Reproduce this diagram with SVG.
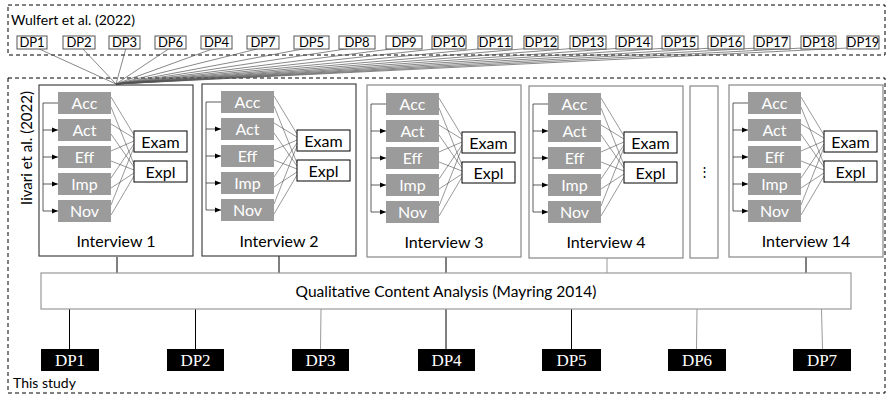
<svg xmlns="http://www.w3.org/2000/svg" width="887" height="395" viewBox="0 0 887 395">
<style>
text{font-family:Lato,"Liberation Sans",sans-serif;fill:#000}
.dash{fill:none;stroke:#000;stroke-width:1;stroke-dasharray:4 3}
.dp{fill:#fff;stroke:#555;stroke-width:1}
.dpt{font-size:13px;text-anchor:middle}
.conv{stroke:#555;stroke-width:0.7;fill:none}
.ivA{fill:#fff;stroke:#444;stroke-width:1.2}
.ivB{fill:#fff;stroke:#888;stroke-width:1.2}
.g{fill:#9b9b9b}
.gt{font-size:16px;fill:#fff;text-anchor:middle}
.ex{fill:#fff;stroke:#000;stroke-width:1}
.ext{font-size:16px;text-anchor:middle}
.mesh{stroke:#333;stroke-width:0.5;fill:none}
.br{stroke:#333;stroke-width:0.8;fill:none}
.lab{font-size:16px;text-anchor:middle}
.blk{fill:#000}
.bt{font-family:"Liberation Serif","Times New Roman",serif;font-size:17px;fill:#fff;text-anchor:middle}
.ln{stroke:#000;stroke-width:1}
.lng{stroke:#999;stroke-width:1}
</style>
<defs>
<marker id="ar" viewBox="0 0 6 6" refX="6" refY="3" markerWidth="6" markerHeight="6" orient="auto" markerUnits="userSpaceOnUse">
<path d="M0,0.5 L6,3 L0,5.5 Z" fill="#000"/>
</marker>
</defs>

<g id="frames">
<rect class="dash" x="8" y="5" width="877" height="50"/>
<text x="11" y="25" font-size="14">Wulfert et al. (2022)</text>
<rect class="dash" x="8" y="78" width="877" height="315"/>
<text x="13" y="388" font-size="14">This study</text>
<text transform="translate(32,148) rotate(-90)" font-size="15" text-anchor="middle">Iivari et al. (2022)</text>
</g>

<g id="connectors">
<g class="conv">
<line x1="37" y1="48" x2="116" y2="84"/>
<line x1="82" y1="48" x2="116" y2="84"/>
<line x1="126" y1="48" x2="116" y2="84"/>
<line x1="170" y1="48" x2="116" y2="84"/>
<line x1="215" y1="48" x2="116" y2="84"/>
<line x1="261" y1="48" x2="116" y2="84"/>
<line x1="308" y1="48" x2="116" y2="84"/>
<line x1="352" y1="48" x2="116" y2="84"/>
<line x1="399" y1="48" x2="116" y2="84"/>
<line x1="443" y1="48" x2="116" y2="84"/>
<line x1="488" y1="48" x2="116" y2="84"/>
<line x1="533" y1="48" x2="116" y2="84"/>
<line x1="578" y1="48" x2="116" y2="84"/>
<line x1="623" y1="48" x2="116" y2="84"/>
<line x1="668" y1="48" x2="116" y2="84"/>
<line x1="713" y1="48" x2="116" y2="84"/>
<line x1="758" y1="48" x2="116" y2="84"/>
<line x1="803" y1="48" x2="116" y2="84"/>
<line x1="848" y1="48" x2="116" y2="84"/>
</g>
<line class="ln" x1="117" y1="257" x2="117" y2="273"/>
<line class="ln" x1="279" y1="256" x2="279" y2="273"/>
<line class="ln" x1="446" y1="257" x2="446" y2="273"/>
<line class="lng" x1="607" y1="258" x2="607" y2="273"/>
<line class="ln" x1="806" y1="257" x2="806" y2="273"/>
<line class="ln" x1="69.5" y1="309" x2="69.5" y2="349"/>
<line class="ln" x1="195.5" y1="309" x2="195.5" y2="349"/>
<line class="lng" x1="321" y1="309" x2="320.5" y2="349"/>
<line class="ln" x1="446" y1="309" x2="446" y2="349"/>
<line class="ln" x1="571.5" y1="309" x2="571.5" y2="349"/>
<line class="lng" x1="697" y1="309" x2="696.5" y2="349"/>
<line class="lng" x1="821.5" y1="309" x2="822.5" y2="349"/>
</g>

<g id="top-dps">
<g id="w-dp1"><rect class="dp" x="17" y="36" width="30" height="13"/><text class="dpt" x="32" y="47">DP1</text></g>
<g id="w-dp2"><rect class="dp" x="63" y="36" width="32" height="13"/><text class="dpt" x="79" y="47">DP2</text></g>
<g id="w-dp3"><rect class="dp" x="109" y="36" width="31" height="13"/><text class="dpt" x="124.5" y="47">DP3</text></g>
<g id="w-dp6"><rect class="dp" x="155" y="36" width="31" height="13"/><text class="dpt" x="170.5" y="47">DP6</text></g>
<g id="w-dp4"><rect class="dp" x="201" y="36" width="31" height="13"/><text class="dpt" x="216.5" y="47">DP4</text></g>
<g id="w-dp7"><rect class="dp" x="247" y="36" width="32" height="13"/><text class="dpt" x="263" y="47">DP7</text></g>
<g id="w-dp5"><rect class="dp" x="294" y="36" width="35" height="13"/><text class="dpt" x="311.5" y="47">DP5</text></g>
<g id="w-dp8"><rect class="dp" x="339" y="36" width="36" height="13"/><text class="dpt" x="357" y="47">DP8</text></g>
<g id="w-dp9"><rect class="dp" x="386" y="36" width="36" height="13"/><text class="dpt" x="404" y="47">DP9</text></g>
<g id="w-dp10"><rect class="dp" x="432" y="36" width="34" height="13"/><text class="dpt" x="449" y="47">DP10</text></g>
<g id="w-dp11"><rect class="dp" x="478" y="36" width="34" height="13"/><text class="dpt" x="495" y="47">DP11</text></g>
<g id="w-dp12"><rect class="dp" x="524" y="36" width="34" height="13"/><text class="dpt" x="541" y="47">DP12</text></g>
<g id="w-dp13"><rect class="dp" x="570" y="36" width="36" height="13"/><text class="dpt" x="588" y="47">DP13</text></g>
<g id="w-dp14"><rect class="dp" x="616" y="36" width="36" height="13"/><text class="dpt" x="634" y="47">DP14</text></g>
<g id="w-dp15"><rect class="dp" x="662" y="36" width="36" height="13"/><text class="dpt" x="680" y="47">DP15</text></g>
<g id="w-dp16"><rect class="dp" x="708" y="36" width="36" height="13"/><text class="dpt" x="726" y="47">DP16</text></g>
<g id="w-dp17"><rect class="dp" x="754" y="36" width="36" height="13"/><text class="dpt" x="772" y="47">DP17</text></g>
<g id="w-dp18"><rect class="dp" x="801" y="36" width="35" height="13"/><text class="dpt" x="818.5" y="47">DP18</text></g>
<g id="w-dp19"><rect class="dp" x="847" y="36" width="32" height="13"/><text class="dpt" x="863" y="47">DP19</text></g>
</g>

<g id="interview1" transform="translate(39,85)">
<rect class="ivA" x="0" y="0" width="154" height="171"/>
<path class="br" d="M19,18 H4 V126"/>
<line class="br" x1="4" y1="45" x2="19" y2="45" marker-end="url(#ar)"/>
<line class="br" x1="4" y1="72" x2="19" y2="72" marker-end="url(#ar)"/>
<line class="br" x1="4" y1="99" x2="19" y2="99" marker-end="url(#ar)"/>
<line class="br" x1="4" y1="126" x2="19" y2="126" marker-end="url(#ar)"/>
<path class="mesh" d="M72,12 L95,50 M72,22 L95,79 M72,39 L95,53 M72,49 L95,82 M72,66 L95,56 M72,76 L95,85 M72,93 L95,59 M72,103 L95,88 M72,120 L95,62 M72,130 L95,91"/>
<rect class="g" x="19" y="7" width="53" height="22"/><text class="gt" x="45.5" y="24">Acc</text>
<rect class="g" x="19" y="34" width="53" height="22"/><text class="gt" x="45.5" y="51">Act</text>
<rect class="g" x="19" y="61" width="53" height="22"/><text class="gt" x="45.5" y="78">Eff</text>
<rect class="g" x="19" y="88" width="53" height="22"/><text class="gt" x="45.5" y="105">Imp</text>
<rect class="g" x="19" y="115" width="53" height="22"/><text class="gt" x="45.5" y="132">Nov</text>
<rect class="ex" x="95" y="46" width="53" height="21"/><text class="ext" x="121.5" y="62.5">Exam</text>
<rect class="ex" x="95" y="76" width="53" height="21"/><text class="ext" x="121.5" y="92.5">Expl</text>
<text class="lab" x="77" y="162">Interview 1</text>
</g>

<g id="interview2" transform="translate(202,84)">
<rect class="ivA" x="0" y="0" width="154" height="172"/>
<path class="br" d="M19,18 H4 V126"/>
<line class="br" x1="4" y1="45" x2="19" y2="45" marker-end="url(#ar)"/>
<line class="br" x1="4" y1="72" x2="19" y2="72" marker-end="url(#ar)"/>
<line class="br" x1="4" y1="99" x2="19" y2="99" marker-end="url(#ar)"/>
<line class="br" x1="4" y1="126" x2="19" y2="126" marker-end="url(#ar)"/>
<path class="mesh" d="M72,12 L95,50 M72,22 L95,79 M72,39 L95,53 M72,49 L95,82 M72,66 L95,56 M72,76 L95,85 M72,93 L95,59 M72,103 L95,88 M72,120 L95,62 M72,130 L95,91"/>
<rect class="g" x="19" y="7" width="53" height="22"/><text class="gt" x="45.5" y="24">Acc</text>
<rect class="g" x="19" y="34" width="53" height="22"/><text class="gt" x="45.5" y="51">Act</text>
<rect class="g" x="19" y="61" width="53" height="22"/><text class="gt" x="45.5" y="78">Eff</text>
<rect class="g" x="19" y="88" width="53" height="22"/><text class="gt" x="45.5" y="105">Imp</text>
<rect class="g" x="19" y="115" width="53" height="22"/><text class="gt" x="45.5" y="132">Nov</text>
<rect class="ex" x="95" y="46" width="53" height="21"/><text class="ext" x="121.5" y="62.5">Exam</text>
<rect class="ex" x="95" y="76" width="53" height="21"/><text class="ext" x="121.5" y="92.5">Expl</text>
<text class="lab" x="77" y="163">Interview 2</text>
</g>

<g id="interview3" transform="translate(367,85)">
<rect class="ivB" x="0" y="0" width="154" height="172"/>
<path class="br" d="M19,19 H4 V127"/>
<line class="br" x1="4" y1="46" x2="19" y2="46" marker-end="url(#ar)"/>
<line class="br" x1="4" y1="73" x2="19" y2="73" marker-end="url(#ar)"/>
<line class="br" x1="4" y1="100" x2="19" y2="100" marker-end="url(#ar)"/>
<line class="br" x1="4" y1="127" x2="19" y2="127" marker-end="url(#ar)"/>
<path class="mesh" d="M72,13 L95,51 M72,23 L95,80 M72,40 L95,54 M72,50 L95,83 M72,67 L95,57 M72,77 L95,86 M72,94 L95,60 M72,104 L95,89 M72,121 L95,63 M72,131 L95,92"/>
<rect class="g" x="19" y="8" width="53" height="22"/><text class="gt" x="45.5" y="25">Acc</text>
<rect class="g" x="19" y="35" width="53" height="22"/><text class="gt" x="45.5" y="52">Act</text>
<rect class="g" x="19" y="62" width="53" height="22"/><text class="gt" x="45.5" y="79">Eff</text>
<rect class="g" x="19" y="89" width="53" height="22"/><text class="gt" x="45.5" y="106">Imp</text>
<rect class="g" x="19" y="116" width="53" height="22"/><text class="gt" x="45.5" y="133">Nov</text>
<rect class="ex" x="95" y="47" width="53" height="21"/><text class="ext" x="121.5" y="63.5">Exam</text>
<rect class="ex" x="95" y="77" width="53" height="21"/><text class="ext" x="121.5" y="93.5">Expl</text>
<text class="lab" x="77" y="163">Interview 3</text>
</g>

<g id="interview4" transform="translate(529,86)">
<rect class="ivB" x="0" y="0" width="154" height="172"/>
<path class="br" d="M19,18 H4 V126"/>
<line class="br" x1="4" y1="45" x2="19" y2="45" marker-end="url(#ar)"/>
<line class="br" x1="4" y1="72" x2="19" y2="72" marker-end="url(#ar)"/>
<line class="br" x1="4" y1="99" x2="19" y2="99" marker-end="url(#ar)"/>
<line class="br" x1="4" y1="126" x2="19" y2="126" marker-end="url(#ar)"/>
<path class="mesh" d="M72,12 L95,50 M72,22 L95,79 M72,39 L95,53 M72,49 L95,82 M72,66 L95,56 M72,76 L95,85 M72,93 L95,59 M72,103 L95,88 M72,120 L95,62 M72,130 L95,91"/>
<rect class="g" x="19" y="7" width="53" height="22"/><text class="gt" x="45.5" y="24">Acc</text>
<rect class="g" x="19" y="34" width="53" height="22"/><text class="gt" x="45.5" y="51">Act</text>
<rect class="g" x="19" y="61" width="53" height="22"/><text class="gt" x="45.5" y="78">Eff</text>
<rect class="g" x="19" y="88" width="53" height="22"/><text class="gt" x="45.5" y="105">Imp</text>
<rect class="g" x="19" y="115" width="53" height="22"/><text class="gt" x="45.5" y="132">Nov</text>
<rect class="ex" x="95" y="46" width="53" height="21"/><text class="ext" x="121.5" y="62.5">Exam</text>
<rect class="ex" x="95" y="76" width="53" height="21"/><text class="ext" x="121.5" y="92.5">Expl</text>
<text class="lab" x="77" y="162">Interview 4</text>
</g>

<g id="ellipsis">
<rect class="ivB" x="690" y="86" width="28" height="172"/>
<text x="704" y="176" font-size="13" text-anchor="middle" font-family="DejaVu Sans,sans-serif">⋮</text>
</g>

<g id="interview14" transform="translate(729,85)">
<rect class="ivB" x="0" y="0" width="154" height="172"/>
<path class="br" d="M19,18 H4 V126"/>
<line class="br" x1="4" y1="45" x2="19" y2="45" marker-end="url(#ar)"/>
<line class="br" x1="4" y1="72" x2="19" y2="72" marker-end="url(#ar)"/>
<line class="br" x1="4" y1="99" x2="19" y2="99" marker-end="url(#ar)"/>
<line class="br" x1="4" y1="126" x2="19" y2="126" marker-end="url(#ar)"/>
<path class="mesh" d="M72,12 L95,50 M72,22 L95,79 M72,39 L95,53 M72,49 L95,82 M72,66 L95,56 M72,76 L95,85 M72,93 L95,59 M72,103 L95,88 M72,120 L95,62 M72,130 L95,91"/>
<rect class="g" x="19" y="7" width="53" height="22"/><text class="gt" x="45.5" y="24">Acc</text>
<rect class="g" x="19" y="34" width="53" height="22"/><text class="gt" x="45.5" y="51">Act</text>
<rect class="g" x="19" y="61" width="53" height="22"/><text class="gt" x="45.5" y="78">Eff</text>
<rect class="g" x="19" y="88" width="53" height="22"/><text class="gt" x="45.5" y="105">Imp</text>
<rect class="g" x="19" y="115" width="53" height="22"/><text class="gt" x="45.5" y="132">Nov</text>
<rect class="ex" x="95" y="46" width="53" height="21"/><text class="ext" x="121.5" y="62.5">Exam</text>
<rect class="ex" x="95" y="76" width="53" height="21"/><text class="ext" x="121.5" y="92.5">Expl</text>
<text class="lab" x="77" y="162">Interview 14</text>
</g>

<g id="qca">
<rect x="41" y="273" width="810" height="36" fill="#fff" stroke="#999" stroke-width="1.2"/>
<text x="446" y="297" font-size="15.5" text-anchor="middle">Qualitative Content Analysis (Mayring 2014)</text>
</g>

<g id="dp1"><rect class="blk" x="41" y="349" width="58" height="22"/><text class="bt" x="70" y="366">DP1</text></g>
<g id="dp2"><rect class="blk" x="167" y="349" width="57" height="22"/><text class="bt" x="195.5" y="366">DP2</text></g>
<g id="dp3"><rect class="blk" x="292" y="349" width="57" height="22"/><text class="bt" x="320.5" y="366">DP3</text></g>
<g id="dp4"><rect class="blk" x="418" y="349" width="57" height="22"/><text class="bt" x="446.5" y="366">DP4</text></g>
<g id="dp5"><rect class="blk" x="542" y="349" width="59" height="22"/><text class="bt" x="571.5" y="366">DP5</text></g>
<g id="dp6"><rect class="blk" x="668" y="349" width="58" height="22"/><text class="bt" x="697" y="366">DP6</text></g>
<g id="dp7"><rect class="blk" x="793" y="349" width="58" height="22"/><text class="bt" x="822" y="366">DP7</text></g>
</svg>
